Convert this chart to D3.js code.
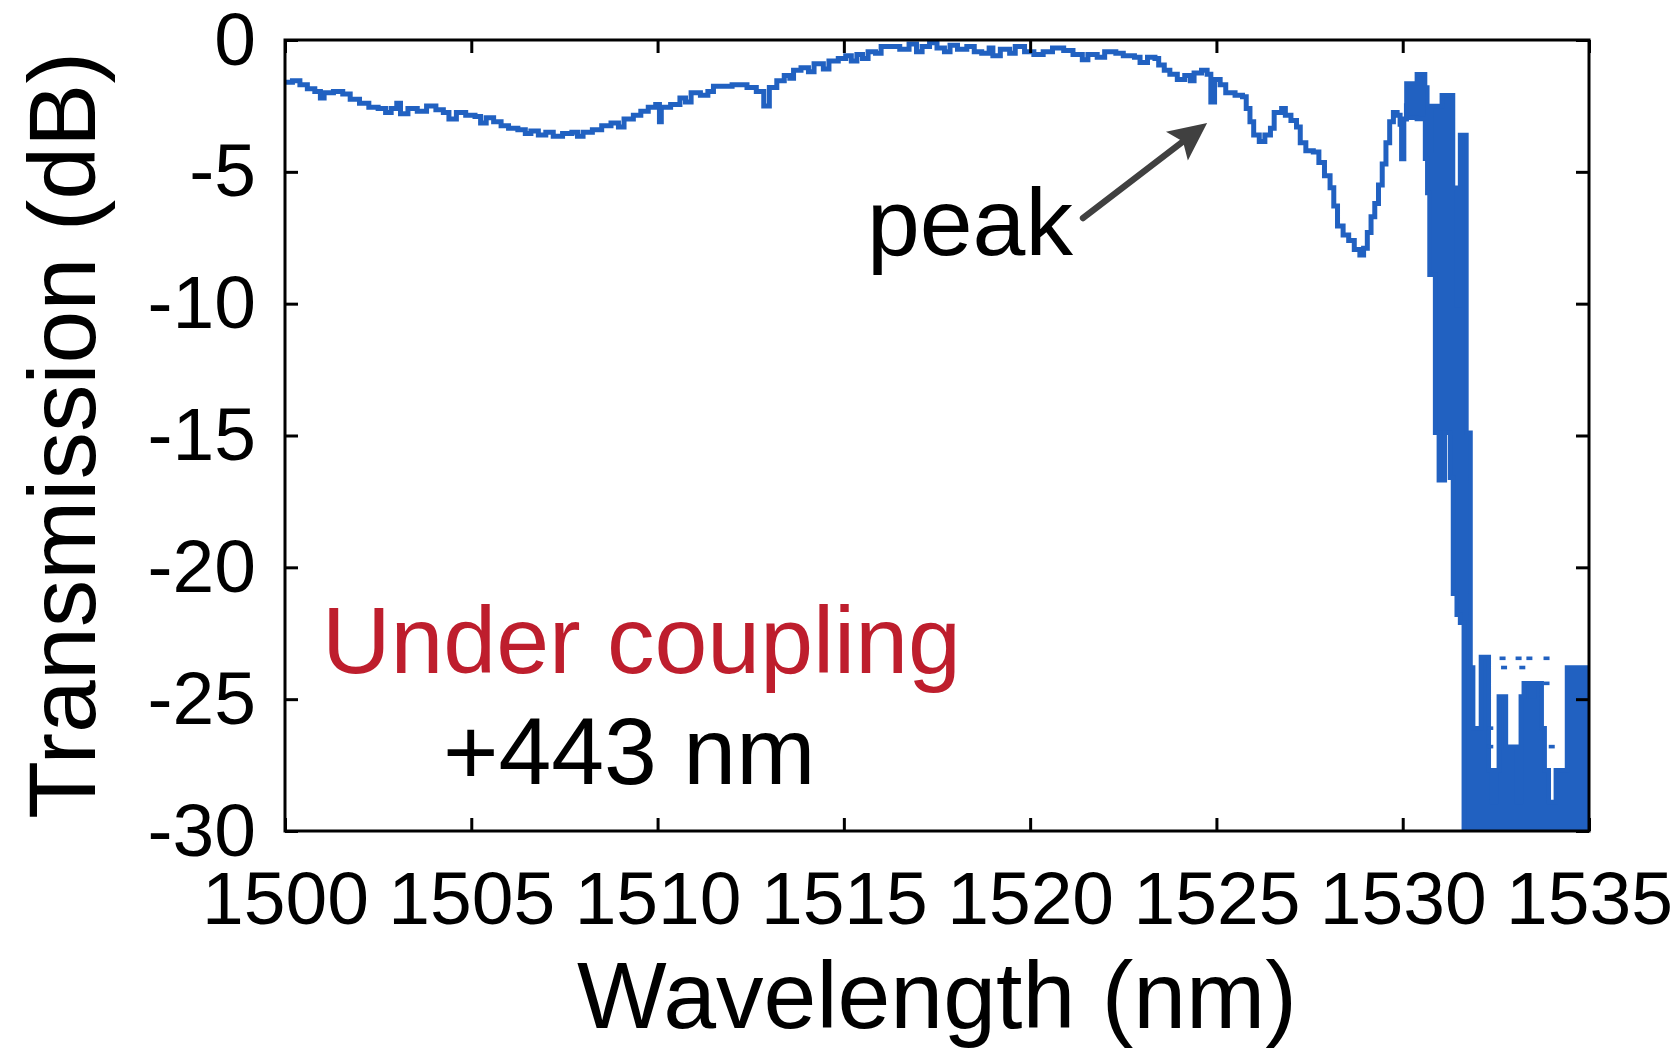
<!DOCTYPE html>
<html>
<head>
<meta charset="utf-8">
<script src="https://cdn.jsdelivr.net/npm/d3@7"></script>
<style>
  html, body { margin: 0; padding: 0; background: #fff; }
  svg { display: block; font-family: 'Liberation Sans', Arial, sans-serif; }
</style>
</head>
<body>
<div id="chart"></div>
<script>
// Measured transmission trace (nm, dB)
const traceWl = [1500.0, 1500.2, 1500.4, 1500.6, 1500.8, 1500.95, 1501.05, 1501.3, 1501.55, 1501.75,
    1502.0, 1502.25, 1502.5, 1502.7, 1502.85, 1503.0, 1503.1, 1503.3, 1503.55, 1503.8,
    1504.05, 1504.25, 1504.4, 1504.6, 1504.85, 1505.1, 1505.25, 1505.4, 1505.6, 1505.8,
    1506.0, 1506.25, 1506.45, 1506.6, 1506.8, 1507.0, 1507.2, 1507.45, 1507.7, 1507.85,
    1508.0, 1508.25, 1508.5, 1508.75, 1508.95, 1509.1, 1509.35, 1509.55, 1509.75, 1509.95,
    1510.05, 1510.1, 1510.35, 1510.6, 1510.75, 1510.9, 1511.15, 1511.35, 1511.5, 1512.0,
    1512.4, 1512.65, 1512.85, 1513.0, 1513.2, 1513.4, 1513.55, 1513.65, 1513.85, 1514.05,
    1514.2, 1514.45, 1514.6, 1514.85, 1515.05, 1515.2, 1515.35, 1515.5, 1515.65, 1515.85,
    1516.0, 1516.5, 1516.75, 1516.95, 1517.1, 1517.3, 1517.5, 1517.7, 1517.85, 1518.05,
    1518.3, 1518.5, 1518.7, 1518.9, 1519.0, 1519.2, 1519.45, 1519.6, 1519.85, 1520.1,
    1520.35, 1520.6, 1520.9, 1521.15, 1521.4, 1521.55, 1521.8, 1522.0, 1522.3, 1522.5,
    1522.8, 1522.95, 1523.15, 1523.35, 1523.45, 1523.6, 1523.75, 1523.95, 1524.15, 1524.3,
    1524.4, 1524.6, 1524.75, 1524.85, 1524.95, 1525.1, 1525.25, 1525.5, 1525.7, 1525.8,
    1525.9, 1526.0, 1526.15, 1526.3, 1526.45, 1526.55, 1526.75, 1526.85, 1527.0, 1527.15,
    1527.25, 1527.4, 1527.6, 1527.75, 1527.9, 1528.05, 1528.15, 1528.25, 1528.4, 1528.55,
    1528.7, 1528.85, 1528.95, 1529.05, 1529.15, 1529.25, 1529.35, 1529.45, 1529.55, 1529.65,
    1529.75, 1529.85, 1529.93, 1529.97, 1530.03, 1530.1]
const traceDb = [-1.6, -1.55, -1.7, -1.85, -1.95, -2.2, -2.0, -1.95, -2.05, -2.25,
    -2.4, -2.55, -2.6, -2.75, -2.6, -2.4, -2.8, -2.6, -2.7, -2.5,
    -2.65, -2.75, -3.0, -2.75, -2.85, -2.9, -3.15, -2.95, -3.1, -3.25,
    -3.35, -3.4, -3.55, -3.45, -3.6, -3.5, -3.65, -3.55, -3.5, -3.65,
    -3.5, -3.4, -3.25, -3.15, -3.3, -3.0, -2.85, -2.7, -2.55, -2.45,
    -3.1, -2.55, -2.45, -2.2, -2.35, -2.0, -2.1, -1.95, -1.75, -1.7,
    -1.8, -1.95, -2.5, -1.8, -1.55, -1.35, -1.45, -1.15, -1.05, -1.2,
    -0.9, -1.1, -0.8, -0.7, -0.6, -0.8, -0.55, -0.7, -0.45, -0.5,
    -0.25, -0.35, -0.15, -0.45, -0.25, -0.1, -0.3, -0.45, -0.2, -0.35,
    -0.25, -0.45, -0.5, -0.3, -0.6, -0.35, -0.5, -0.25, -0.45, -0.55,
    -0.45, -0.3, -0.4, -0.55, -0.75, -0.55, -0.65, -0.45, -0.5, -0.6,
    -0.65, -0.85, -0.65, -0.7, -0.95, -1.15, -1.3, -1.5, -1.35, -1.55,
    -1.25, -1.15, -1.3, -2.35, -1.5, -1.7, -2.0, -2.1, -2.15, -2.6,
    -3.1, -3.6, -3.85, -3.6, -3.35, -2.75, -2.6, -2.85, -3.05, -3.3,
    -3.9, -4.2, -4.25, -4.65, -5.15, -5.6, -6.3, -7.05, -7.4, -7.6,
    -7.95, -8.15, -7.9, -7.3, -6.7, -6.2, -5.5, -4.7, -3.9, -3.1,
    -2.75, -2.85, -3.2, -4.5, -3.0, -2.4]

// Fast-oscillating tail: upper and lower envelope per step (dB), below -30 is off scale
const envWl = [1530.10, 1530.38, 1530.60, 1530.66, 1530.72, 1530.77, 1530.87, 1530.97, 1531.05, 1531.13,
    1531.27, 1531.35, 1531.45, 1531.54, 1531.64, 1531.71, 1531.82, 1531.89, 1532.10, 1532.31,
    1532.39, 1532.50, 1532.58, 1532.77, 1533.06, 1533.17, 1533.25, 1533.44, 1533.54, 1533.73,
    1533.81, 1533.92, 1534.11, 1534.41, 1535.0]
const envHi = [-1.65, -1.3, -1.8, -4.2, -4.2, -2.5, -2.5, -2.5, -2.1, -2.1,
    -2.1, -5.6, -10.05, -3.6, -3.6, -14.9, -23.8, -26.1, -23.4, -27.7,
    -28.9, -27.7, -24.9, -26.8, -28.9, -24.9, -24.4, -24.9, -24.4, -26.1,
    -27.7, -28.9, -27.7, -23.8, -23.8]
const envLo = [-2.95, -3.0, -4.5, -5.8, -8.9, -8.9, -14.9, -16.7, -16.7, -14.9,
    -16.6, -21.0, -21.8, -22.1, -31, -31, -31, -31, -31, -31,
    -31, -31, -31, -31, -31, -31, -31, -31, -31, -31,
    -31, -31, -31, -31, -31]

// isolated specks above the noise floor
const speckWl = [1532.68, 1533.11, 1533.40, 1533.86, 1532.72, 1533.21, 1533.86, 1532.35, 1532.35, 1534.0]
const speckDb = [-23.45, -23.45, -23.45, -23.45, -23.8, -23.8, -24.4, -26.1, -26.8, -26.8]

const xTicks = [1500, 1505, 1510, 1515, 1520, 1525, 1530, 1535]
const yTicks = [0, -5, -10, -15, -20, -25, -30]

// annotations (data coords)
const peakArrow = { from: [1521.42, -6.75], to: [1524.75, -3.15] }
const labels = [
    { text: 'peak', w: 1515.62, db: -8.15, color: '#000' },
    { text: 'Under coupling', w: 1500.99, db: -24.0, color: '#be1e2d' },
    { text: '+443 nm', w: 1504.24, db: -28.2, color: '#000' }
]

const W = 1680, H = 1049
const margin = { top: 40, right: 91, bottom: 218, left: 285 }
const blue = '#2161c1'

const svg = d3.select('#chart').append('svg')
    .attr('width', W).attr('height', H)

svg.append('rect').attr('width', W).attr('height', H).attr('fill', '#fff')

const x = d3.scaleLinear().domain([1500, 1535]).range([margin.left, W - margin.right])
const y = d3.scaleLinear().domain([-30, 0]).range([H - margin.bottom, margin.top])

svg.append('clipPath').attr('id', 'plot-clip')
    .append('rect')
    .attr('x', x(1500)).attr('y', y(0))
    .attr('width', x(1535) - x(1500)).attr('height', y(-30) - y(0))

const plot = svg.append('g').attr('clip-path', 'url(#plot-clip)')

// trace
const trace = traceWl.map((w, i) => [w, traceDb[i]])
plot.append('path')
    .datum(trace)
    .attr('fill', 'none')
    .attr('stroke', blue)
    .attr('stroke-width', 5)
    .attr('stroke-linejoin', 'miter')
    .attr('d', d3.line().x(d => x(d[0])).y(d => y(d[1])).curve(d3.curveStepAfter))

// oscillating tail
const env = envWl.map((w, i) => ({ w, hi: envHi[i], lo: envLo[i] }))
plot.append('path')
    .datum(env)
    .attr('fill', blue)
    .attr('stroke', blue)
    .attr('stroke-width', 4.5)
    .attr('d', d3.area().x(d => x(d.w)).y0(d => y(d.lo)).y1(d => y(d.hi)).curve(d3.curveStepAfter))

plot.selectAll('.speck')
    .data(speckWl.map((w, i) => [w, speckDb[i]])).enter()
    .append('rect')
    .attr('x', d => x(d[0]) - 3).attr('y', d => y(d[1]) - 1.8)
    .attr('width', 6).attr('height', 3.6)
    .attr('fill', blue)

// axes
const tickLen = 13
const bottomAxis = svg.append('g')
    .attr('transform', `translate(0,${y(-30)})`)
    .call(d3.axisBottom(x).tickValues(xTicks).tickSize(-tickLen).tickFormat(d => String(d)))
bottomAxis.selectAll('text').attr('y', 93).attr('dy', 0)

const leftAxis = svg.append('g')
    .attr('transform', `translate(${x(1500)},0)`)
    .call(d3.axisLeft(y).tickValues(yTicks).tickSize(-tickLen).tickFormat(d => String(d)))
leftAxis.selectAll('text').attr('x', -29).attr('dy', 24)

svg.append('g')
    .attr('transform', `translate(0,${y(0)})`)
    .call(d3.axisTop(x).tickValues(xTicks).tickSize(-tickLen).tickFormat(''))
svg.append('g')
    .attr('transform', `translate(${x(1535)},0)`)
    .call(d3.axisRight(y).tickValues(yTicks).tickSize(-tickLen).tickFormat(''))

svg.selectAll('.domain').remove()
svg.selectAll('.tick line').attr('stroke', '#000').attr('stroke-width', 3)
svg.selectAll('.tick text')
    .attr('fill', '#000')
    .attr('font-size', '75px')
    .attr('font-family', "'Liberation Sans', Arial, sans-serif")

svg.append('rect')
    .attr('x', x(1500)).attr('y', y(0))
    .attr('width', x(1535) - x(1500)).attr('height', y(-30) - y(0))
    .attr('fill', 'none').attr('stroke', '#000').attr('stroke-width', 3)

// axis titles
svg.append('text')
    .attr('x', (x(1500) + x(1535)) / 2).attr('y', 1028)
    .attr('text-anchor', 'middle')
    .attr('font-size', '95px')
    .text('Wavelength (nm)')

svg.append('text')
    .attr('transform', `translate(95,${(y(0) + y(-30)) / 2}) rotate(-90)`)
    .attr('text-anchor', 'middle')
    .attr('font-size', '95px')
    .text('Transmission (dB)')

// annotations
labels.forEach(l => {
    svg.append('text')
        .attr('x', x(l.w)).attr('y', y(l.db))
        .attr('font-size', '95px')
        .attr('fill', l.color)
        .text(l.text)
})

const ax0 = x(peakArrow.from[0]), ay0 = y(peakArrow.from[1])
const ax1 = x(peakArrow.to[0]), ay1 = y(peakArrow.to[1])
const len = Math.hypot(ax1 - ax0, ay1 - ay0)
const ux = (ax1 - ax0) / len, uy = (ay1 - ay0) / len
const px = -uy, py = ux
const headL = 38, headW = 18
const bx = ax1 - ux * headL, by = ay1 - uy * headL
const nx = ax1 - ux * headL * 0.8, ny = ay1 - uy * headL * 0.8

svg.append('line')
    .attr('x1', ax0).attr('y1', ay0)
    .attr('x2', nx).attr('y2', ny)
    .attr('stroke', '#404040').attr('stroke-width', 6.5)
    .attr('stroke-linecap', 'round')

svg.append('path')
    .attr('d', `M${ax1},${ay1} L${bx + px * headW},${by + py * headW} L${nx},${ny} L${bx - px * headW},${by - py * headW} Z`)
    .attr('fill', '#404040')
</script>
</body>
</html>
